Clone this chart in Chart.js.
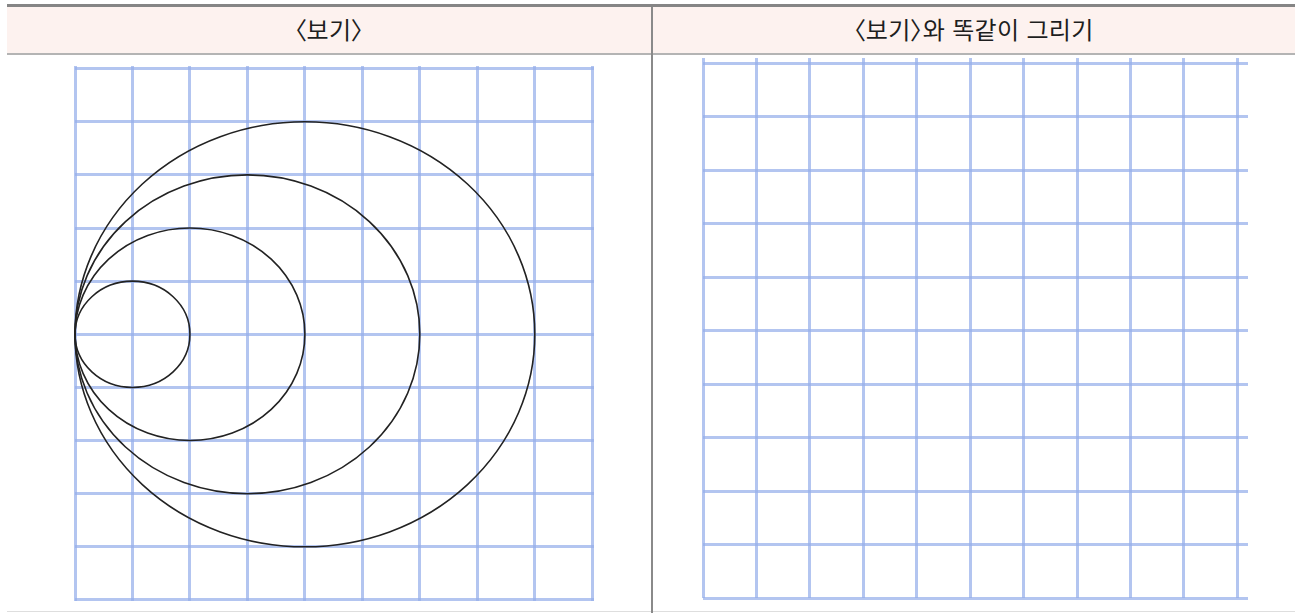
<!DOCTYPE html>
<html lang="ko">
<head>
<meta charset="utf-8">
<script src="https://cdn.jsdelivr.net/npm/chart.js@4/dist/chart.umd.min.js"></script>
<style>
  html, body { margin: 0; padding: 0; background: #ffffff; }
  body { width: 1297px; height: 613px; position: relative; overflow: hidden;
         font-family: "Noto Sans CJK KR", "Noto Sans", sans-serif; }
  .topline { position: absolute; left: 7px; top: 4px; width: 1288px; height: 3px; background: #858585; }
  .header { position: absolute; left: 7px; top: 7px; width: 1288px; height: 46px; background: #fdf2ef; }
  .headline { position: absolute; left: 7px; top: 53px; width: 1288px; height: 2px; background: #b4b4b4; }
  .bottomline { position: absolute; left: 7px; top: 611px; width: 1288px; height: 1px; background: #dedede; }
  .divider { position: absolute; left: 651px; top: 7px; width: 1.5px; height: 606px; background: #8a8a8a; z-index: 3; }
  .htext { position: absolute; top: 6px; height: 46px; line-height: 46px; text-align: center;
           font-size: 24px; color: #1e1e1e; z-index: 2; font-feature-settings: "palt"; letter-spacing: 0.3px; }
  canvas { position: absolute; z-index: 1; }
</style>
</head>
<body>
<div class="topline"></div>
<div class="header"></div>
<div class="headline"></div>
<div class="bottomline"></div>
<div class="divider"></div>
<div class="htext" id="h1" style="left:7px;width:644px;"></div>
<div class="htext" id="h2" style="left:652px;width:643px;"></div>
<canvas id="left" width="531" height="547" style="left:69px;top:60px;"></canvas>
<canvas id="right" width="557" height="552" style="left:697px;top:52px;"></canvas>
<script>
// ---- text ----
const headerLabels = ["〈보기〉", "〈보기〉와 똑같이 그리기"];

// ---- left grid (example) ----
const leftXTicks = [0, 1, 2, 3, 4, 5, 6, 7, 8, 9];
const leftYTicks = [0, 1, 2, 3, 4, 5, 6, 7, 8, 9, 10];
// circles: all touch the left edge at mid-height
const circleCenterX = [1, 2, 3, 4];
const circleCenterY = [5, 5, 5, 5];
const circleRadius  = [1, 2, 3, 4];

// ---- right grid (blank, to copy onto) ----
const rightXTicks = [0, 1, 2, 3, 4, 5, 6, 7, 8, 9, 10];
const rightYTicks = [0, 1, 2, 3, 4, 5, 6, 7, 8, 9, 10];

document.getElementById('h1').textContent = headerLabels[0];
document.getElementById('h2').textContent = headerLabels[1];

const gridColor = 'rgba(150,174,234,0.72)';

function axis(ticks, min, max) {
  return {
    type: 'linear', min: min, max: max, display: true,
    afterBuildTicks: (s) => { s.ticks = ticks.map(v => ({ value: v })); },
    ticks: { display: false },
    border: { display: false },
    grid: { color: gridColor, lineWidth: 3, drawTicks: false }
  };
}

const circlePlugin = {
  id: 'circles',
  afterDatasetsDraw(chart) {
    if (chart.canvas.id !== 'left') return;
    const { ctx, scales: { x, y } } = chart;
    ctx.save();
    ctx.strokeStyle = '#222222';
    ctx.lineWidth = 1.6;
    for (let i = 0; i < circleRadius.length; i++) {
      const cx = x.getPixelForValue(circleCenterX[i]);
      const cy = y.getPixelForValue(circleCenterY[i]);
      const rx = Math.abs(x.getPixelForValue(circleCenterX[i] + circleRadius[i]) - cx);
      const ry = Math.abs(y.getPixelForValue(circleCenterY[i] + circleRadius[i]) - cy);
      ctx.beginPath();
      ctx.ellipse(cx, cy, rx, ry, 0, 0, Math.PI * 2);
      ctx.stroke();
    }
    ctx.restore();
  }
};

function makeChart(id, xT, yT, xMin, xMax, yMin, yMax) {
  return new Chart(document.getElementById(id), {
    type: 'scatter',
    data: { datasets: [{ data: [], pointRadius: 0 }] },
    options: {
      responsive: false, animation: false, devicePixelRatio: 1,
      layout: { padding: 6 },
      plugins: { legend: { display: false }, tooltip: { enabled: false } },
      scales: { x: axis(xT, xMin, xMax), y: axis(yT, yMin, yMax) }
    },
    plugins: [circlePlugin]
  });
}

makeChart('left', leftXTicks, leftYTicks, 0, 9.03, -0.02, 10.05);
makeChart('right', rightXTicks, rightYTicks, 0, 10.2, 0, 10.1);
</script>
</body>
</html>
